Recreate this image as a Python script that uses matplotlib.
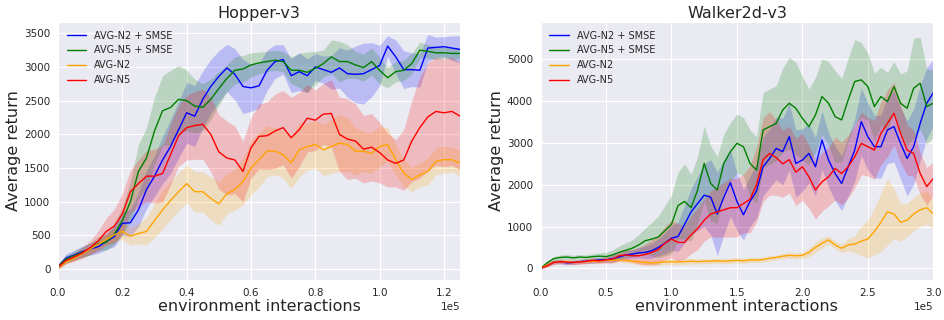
import matplotlib
matplotlib.use("Agg")
import matplotlib.pyplot as plt
import numpy as np
import seaborn as sns
from matplotlib.ticker import MultipleLocator

# evaluation points (environment interactions)
hopper_x = np.linspace(0, 125000, 51)
walker_x = np.linspace(0, 300000, 61)

labels = ["AVG-N2 + SMSE", "AVG-N5 + SMSE", "AVG-N2", "AVG-N5"]
colors = ["blue", "green", "orange", "red"]

# Hopper-v3: mean return and half width of the shaded band
hopper_n2_smse = [40, 165, 210, 260, 300, 335, 410, 485, 680, 690,
                  880, 1180, 1380, 1620, 1820, 2070, 2320, 2270, 2520, 2710,
                  2860, 2985, 2890, 2710, 2690, 2720, 2950, 3080, 3110, 2870,
                  2930, 2870, 3000, 2960, 2920, 2985, 2900, 2890, 2900, 2960,
                  3020, 3310, 3150, 2960, 2960, 2950, 3280, 3290, 3300, 3280,
                  3260]
hopper_n2_smse_sd = [30, 60, 70, 80, 90, 100, 120, 150, 180, 200,
                     250, 280, 300, 350, 400, 420, 450, 450, 420, 400,
                     380, 350, 380, 400, 350, 330, 300, 250, 220, 250,
                     280, 250, 200, 200, 250, 300, 350, 420, 450, 400,
                     300, 150, 250, 280, 250, 250, 200, 150, 150, 180,
                     200]
hopper_n5_smse = [40, 150, 200, 250, 300, 380, 400, 520, 720, 1000,
                  1450, 1650, 2050, 2350, 2400, 2520, 2500, 2420, 2400, 2520,
                  2680, 2830, 2950, 2970, 3030, 3060, 3080, 3100, 3080, 2950,
                  2950, 2920, 2980, 3050, 3150, 3080, 3080, 3030, 2990, 3080,
                  2950, 2840, 2930, 2950, 3050, 3250, 3230, 3210, 3210, 3200,
                  3200]
hopper_n5_smse_sd = [30, 60, 70, 80, 90, 100, 120, 150, 200, 300,
                     400, 450, 500, 520, 550, 500, 450, 400, 350, 300,
                     250, 200, 200, 200, 180, 160, 150, 150, 150, 200,
                     250, 300, 250, 200, 250, 300, 250, 200, 200, 200,
                     200, 150, 150, 150, 150, 120, 100, 100, 80, 80,
                     80]
hopper_n2 = [20, 110, 160, 230, 300, 370, 440, 510, 560, 490,
             530, 560, 720, 880, 1020, 1150, 1270, 1150, 1150, 1050,
             970, 1120, 1180, 1300, 1500, 1625, 1750, 1750, 1700, 1575,
             1770, 1820, 1850, 1770, 1820, 1870, 1850, 1750, 1750, 1720,
             1820, 1850, 1625, 1425, 1330, 1400, 1450, 1600, 1625, 1625,
             1575]
hopper_n2_sd = [20, 30, 40, 50, 60, 70, 80, 100, 120, 130,
                150, 200, 250, 280, 280, 280, 280, 300, 300, 320,
                320, 300, 300, 350, 400, 400, 380, 350, 350, 380,
                400, 350, 350, 380, 400, 420, 400, 350, 300, 300,
                300, 250, 220, 200, 180, 180, 200, 200, 200, 180,
                200]
hopper_n5 = [30, 130, 180, 240, 320, 420, 560, 640, 820, 1150,
             1270, 1380, 1380, 1420, 1700, 1980, 2100, 2130, 2150, 2000,
             1740, 1650, 1620, 1450, 1800, 1970, 1980, 2050, 2100, 1950,
             2070, 2240, 2210, 2300, 2310, 2000, 1930, 1900, 1780, 1810,
             1730, 1620, 1570, 1620, 1900, 2100, 2260, 2340, 2320, 2340,
             2270]
hopper_n5_sd = [30, 50, 60, 80, 100, 150, 200, 250, 300, 320,
                350, 380, 400, 420, 450, 450, 480, 500, 520, 550,
                550, 550, 500, 450, 450, 480, 500, 550, 550, 600,
                550, 500, 450, 450, 500, 550, 600, 550, 500, 500,
                450, 400, 350, 450, 600, 750, 800, 800, 800, 800,
                800]

# Walker2d-v3
walker_n2_smse = [0, 80, 150, 160, 130, 140, 160, 170, 180, 200,
                  200, 230, 270, 320, 340, 370, 380, 420, 500, 600,
                  720, 760, 1050, 1350, 1550, 1750, 1700, 1300, 1700, 2050,
                  1600, 1280, 1600, 1850, 2430, 2630, 2870, 2790, 3150, 2510,
                  2590, 2750, 2430, 3070, 2590, 2270, 2030, 2430, 2830, 3510,
                  3150, 2910, 2910, 3310, 3390, 2990, 2630, 2910, 3470, 3950,
                  4200]
walker_n2_smse_sd = [20, 40, 50, 50, 50, 50, 50, 50, 60, 60,
                     60, 80, 80, 100, 100, 120, 150, 180, 200, 250,
                     300, 350, 450, 550, 650, 750, 900, 1000, 900, 800,
                     700, 600, 600, 650, 700, 700, 750, 800, 800, 800,
                     750, 700, 700, 700, 650, 650, 650, 700, 750, 800,
                     800, 750, 750, 800, 850, 850, 900, 900, 900, 850,
                     800]
walker_n5_smse = [0, 130, 230, 260, 270, 250, 270, 260, 280, 290,
                  280, 320, 380, 430, 480, 560, 660, 700, 750, 900,
                  1050, 1500, 1600, 1450, 1875, 2510, 2030, 1875, 2510, 2790,
                  2990, 2910, 2510, 2350, 3310, 3390, 3470, 3790, 3950, 3830,
                  3590, 3390, 3670, 4110, 3950, 3630, 3550, 4030, 4470, 4510,
                  4350, 3870, 4110, 3990, 4350, 3950, 3830, 4310, 4430, 3870,
                  3950]
walker_n5_smse_sd = [20, 40, 50, 60, 60, 60, 60, 60, 70, 80,
                     100, 120, 150, 180, 200, 250, 300, 400, 500, 600,
                     700, 800, 900, 800, 800, 900, 900, 800, 700, 700,
                     700, 700, 800, 800, 900, 900, 900, 1000, 1100, 1100,
                     1000, 900, 900, 900, 1000, 1100, 1000, 1000, 1000, 900,
                     800, 800, 700, 700, 600, 700, 900, 1200, 1100, 900,
                     800]
walker_n2 = [0, 80, 150, 160, 150, 140, 150, 160, 170, 170,
             190, 190, 200, 190, 170, 150, 140, 130, 140, 150,
             160, 150, 160, 170, 160, 170, 170, 180, 170, 180,
             190, 180, 200, 200, 210, 240, 260, 290, 310, 300,
             310, 380, 500, 600, 680, 560, 480, 560, 580, 650,
             700, 880, 1100, 1350, 1300, 1100, 1150, 1300, 1400, 1450,
             1300]
walker_n2_sd = [20, 40, 50, 50, 50, 50, 50, 50, 50, 50,
                50, 50, 50, 60, 60, 60, 70, 70, 70, 70,
                70, 70, 70, 70, 60, 60, 60, 60, 60, 60,
                60, 60, 60, 60, 60, 60, 60, 70, 70, 70,
                70, 100, 120, 120, 100, 100, 100, 150, 200, 350,
                450, 550, 700, 800, 600, 450, 400, 400, 400, 400,
                350]
walker_n5 = [0, 60, 140, 160, 150, 140, 150, 170, 190, 180,
             200, 220, 300, 320, 300, 300, 330, 380, 450, 600,
             700, 620, 620, 800, 950, 1150, 1300, 1350, 1400, 1450,
             1450, 1550, 1650, 2000, 2600, 2750, 2650, 2500, 2600, 2300,
             2430, 2190, 1875, 2070, 2190, 2390, 2270, 2430, 2670, 2990,
             2910, 2830, 3230, 3470, 3710, 3230, 2830, 2750, 2270, 1955,
             2150]
walker_n5_sd = [20, 40, 50, 50, 50, 50, 50, 60, 60, 60,
                80, 100, 120, 150, 150, 200, 250, 300, 350, 400,
                450, 450, 400, 450, 500, 500, 550, 600, 650, 700,
                700, 700, 800, 900, 1000, 1000, 900, 800, 800, 800,
                800, 750, 700, 700, 700, 750, 750, 750, 750, 750,
                700, 700, 750, 800, 750, 700, 600, 550, 500, 450,
                400]

hopper_means = [hopper_n2_smse, hopper_n5_smse, hopper_n2, hopper_n5]
hopper_sds = [hopper_n2_smse_sd, hopper_n5_smse_sd, hopper_n2_sd, hopper_n5_sd]
walker_means = [walker_n2_smse, walker_n5_smse, walker_n2, walker_n5]
walker_sds = [walker_n2_smse_sd, walker_n5_smse_sd, walker_n2_sd, walker_n5_sd]

sns.set_style("darkgrid")
plt.rcParams["font.family"] = ["DejaVu Sans"]

fig = plt.figure(figsize=(9.45, 3.2), dpi=100)
ax1 = fig.add_axes([0.0614, 0.125, 0.4254, 0.807])
ax2 = fig.add_axes([0.572, 0.125, 0.4156, 0.807])


def draw(ax, x, means, sds, title, xstep, ystep, xlim, ylim):
    for m, s, c, lab in zip(means, sds, colors, labels):
        m = np.array(m, dtype=float)
        s = np.array(s, dtype=float)
        ax.fill_between(x, m - s, m + s, color=c, alpha=0.2, linewidth=0)
        ax.plot(x, m, color=c, linewidth=1.0, label=lab)
    ax.set_xlim(*xlim)
    ax.set_ylim(*ylim)
    ax.xaxis.set_major_locator(MultipleLocator(xstep))
    ax.yaxis.set_major_locator(MultipleLocator(ystep))
    ax.ticklabel_format(style="sci", axis="x", scilimits=(0, 0))
    ax.tick_params(labelsize=7.5, pad=2)
    ax.xaxis.get_offset_text().set_fontsize(7.5)
    ax.set_title(title, fontsize=11.5, pad=3)
    ax.set_xlabel("environment interactions", fontsize=11.5, labelpad=1)
    ax.set_ylabel("Average return", fontsize=11.5, labelpad=2)
    ax.legend(loc="upper left", fontsize=7, frameon=False)


draw(ax1, hopper_x, hopper_means, hopper_sds, "Hopper-v3",
     20000, 500, (0, 125000), (-160, 3670))
draw(ax2, walker_x, walker_means, walker_sds, "Walker2d-v3",
     50000, 1000, (0, 300000), (-280, 5900))

fig.savefig("out.png", dpi=100)
